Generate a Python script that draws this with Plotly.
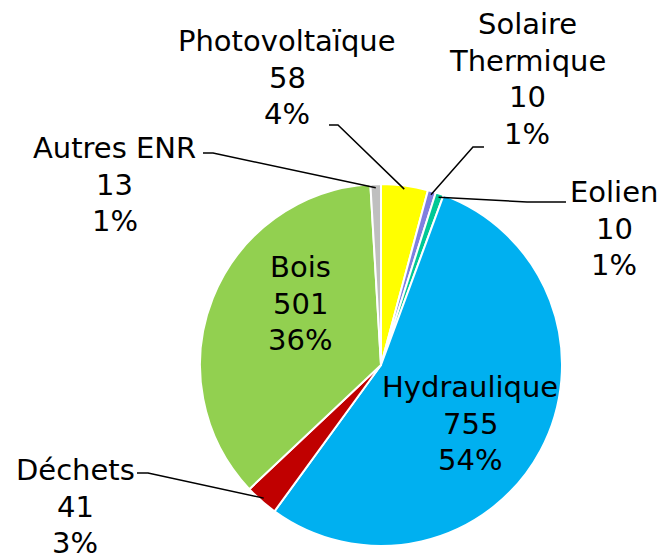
import numpy as np
import plotly.graph_objects as go

W, H = 664, 557

# données
labels = [["Photovoltaïque"], ["Solaire", "Thermique"], ["Eolien"], ["Hydraulique"], ["Déchets"], ["Bois"], ["Autres ENR"]]
values = [58, 10, 10, 755, 41, 501, 13]
colors = ["#FFFF00", "#7F7FDF", "#00C896", "#00B0F0", "#C00000", "#92D050", "#BFBFBF"]

# position des étiquettes (pixels : centre x, centre y de la première ligne)
label_pos = [(287, 41), (527, 24), (614, 192), (470, 387), (75, 470), (300, 267), (115, 148)]
line_h = 36.5
# lignes de rappel : point de départ + coude (None = texte dans la part)
leader = [
    [(329, 125), (338, 125)],
    [(484, 147), (473, 147)],
    [(566, 202), (527, 202)],
    None,
    [(137, 473), (148, 473)],
    None,
    [(203, 153), (213, 153)],
]

cx, cy, r = 381, 365, 181

fig = go.Figure()
fig.add_trace(go.Pie(
    labels=[" ".join(l) for l in labels],
    values=values,
    sort=False,
    direction="clockwise",
    rotation=0,
    marker=dict(colors=colors, line=dict(color="white", width=2)),
    textinfo="none",
    hoverinfo="label+value+percent",
    domain=dict(x=[(cx - r) / W, (cx + r) / W], y=[1 - (cy + r) / H, 1 - (cy - r) / H]),
    showlegend=False,
))

total = sum(values)
cum = np.cumsum([0] + values[:-1])


def px(x, y):
    return x / W, 1 - y / H


for i, (lab, v) in enumerate(zip(labels, values)):
    pct = round(v / total * 100)
    lines = lab + [str(v), f"{pct}%"]
    lx, ly = label_pos[i]
    for k, t in enumerate(lines):
        x, y = px(lx, ly + k * line_h)
        fig.add_annotation(
            text=t,
            x=x, y=y, xref="paper", yref="paper",
            xanchor="center", yanchor="middle",
            showarrow=False,
            font=dict(family="DejaVu Sans", size=29, color="black"),
        )
    if leader[i] is not None:
        ang = 2 * np.pi * (cum[i] + v / 2) / total
        ex = cx + r * 0.98 * np.sin(ang)
        ey = cy - r * 0.98 * np.cos(ang)
        pts = leader[i] + [(ex, ey)]
        pts = [px(a, b) for a, b in pts]
        path = "M " + " L ".join(f"{a:.4f},{b:.4f}" for a, b in pts)
        fig.add_shape(type="path", path=path, xref="paper", yref="paper",
                      line=dict(color="black", width=1.5))

fig.update_layout(
    width=W, height=H,
    margin=dict(l=0, r=0, t=0, b=0),
    paper_bgcolor="white",
    plot_bgcolor="white",
)

# pas de marge autour du graphique dans la page, pas de barre d'outils
fig.write_html("out.html", config={"displayModeBar": False},
               post_script="document.body.style.margin='0px';")
